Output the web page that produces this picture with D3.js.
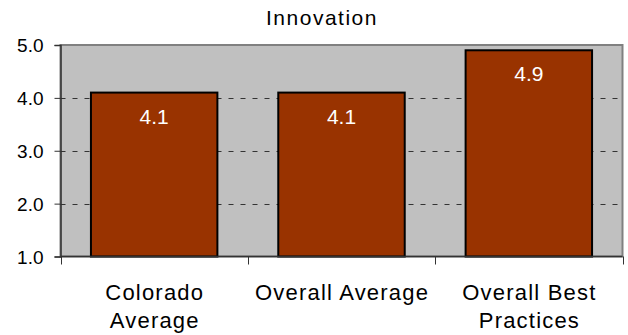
<!DOCTYPE html>
<html>
<head>
<meta charset="utf-8">
<script src="https://cdn.jsdelivr.net/npm/d3@7"></script>
<style>
  html, body { margin: 0; padding: 0; background: #fff; }
  svg { display: block; font-family: "Liberation Sans", Arial, sans-serif; }
</style>
</head>
<body>
<svg id="chart" width="628" height="335"></svg>
<script>
// Innovation scores by group
const categories = [["Colorado", "Average"], ["Overall Average"], ["Overall Best", "Practices"]];
const values = [4.1, 4.1, 4.9];
const yTicks = [1.0, 2.0, 3.0, 4.0, 5.0];
const title = "Innovation";

const svg = d3.select("#chart");
const plot = { left: 60.5, right: 622.5, top: 45, bottom: 256.5 };

const keys = categories.map((c, i) => i);
const x = d3.scaleBand()
  .domain(keys)
  .range([plot.left, plot.right])
  .paddingInner(0.325)
  .paddingOuter(0.1625);

const y = d3.scaleLinear().domain([1, 5]).range([plot.bottom, plot.top]);

// plot background with grey frame on top/right
svg.append("rect")
  .attr("x", plot.left).attr("y", plot.top)
  .attr("width", plot.right - plot.left).attr("height", plot.bottom - plot.top)
  .attr("fill", "#c0c0c0")
  .attr("stroke", "#808080").attr("stroke-width", 2);

// dashed gridlines
svg.append("g")
  .selectAll("line")
  .data(yTicks.filter(t => t > 1 && t < 5))
  .join("line")
  .attr("x1", plot.left).attr("x2", plot.right)
  .attr("y1", d => Math.round(y(d)) + 0.5).attr("y2", d => Math.round(y(d)) + 0.5)
  .attr("stroke", "#333")
  .attr("stroke-width", 1)
  .attr("stroke-dasharray", "5,7");

// bars
svg.append("g")
  .selectAll("rect")
  .data(values)
  .join("rect")
  .attr("x", (d, i) => x(i))
  .attr("y", d => y(d))
  .attr("width", x.bandwidth())
  .attr("height", d => plot.bottom - y(d))
  .attr("fill", "#993300")
  .attr("stroke", "#000")
  .attr("stroke-width", 2);

// value labels
svg.append("g")
  .selectAll("text")
  .data(values)
  .join("text")
  .attr("x", (d, i) => x(i) + x.bandwidth() / 2)
  .attr("y", d => y(d) + 31)
  .attr("text-anchor", "middle")
  .attr("fill", "#fff")
  .attr("font-size", 21)
  .text(d => d3.format(".1f")(d));

// y axis
const yAxis = d3.axisLeft(y)
  .tickValues(yTicks)
  .tickFormat(d3.format(".1f"))
  .tickSize(6)
  .tickPadding(11);
const gy = svg.append("g")
  .attr("transform", `translate(${plot.left},0)`)
  .call(yAxis);
gy.select(".domain").attr("stroke", "#333").attr("stroke-width", 1.5);
gy.selectAll(".tick line").attr("stroke", "#333");
gy.selectAll(".tick text")
  .attr("font-family", "Liberation Sans, Arial, sans-serif")
  .attr("font-size", 19)
  .attr("fill", "#000")
  .attr("dy", "0.36em");

// x axis: tick marks at category boundaries
const boundaries = d3.range(categories.length + 1);
const xEdge = i => plot.left + i * (plot.right - plot.left) / categories.length;
svg.append("line")
  .attr("x1", plot.left).attr("x2", plot.right)
  .attr("y1", plot.bottom).attr("y2", plot.bottom)
  .attr("stroke", "#333").attr("stroke-width", 1.5);
svg.append("g")
  .selectAll("line")
  .data(boundaries)
  .join("line")
  .attr("x1", d => Math.round(xEdge(d)) + 0.5).attr("x2", d => Math.round(xEdge(d)) + 0.5)
  .attr("y1", plot.bottom).attr("y2", plot.bottom + 8)
  .attr("stroke", "#333");

// category labels
const catLabels = svg.append("g")
  .selectAll("text")
  .data(categories)
  .join("text")
  .attr("text-anchor", "middle")
  .attr("font-size", 22)
  .attr("letter-spacing", 1.2)
  .attr("fill", "#000");
catLabels.each(function(lines, i) {
  const cx = x(i) + x.bandwidth() / 2 + 0.6;
  d3.select(this).selectAll("tspan")
    .data(lines)
    .join("tspan")
    .attr("x", cx)
    .attr("y", (d, j) => 300 + j * 28)
    .text(d => d);
});

// title
svg.append("text")
  .attr("x", 322).attr("y", 25)
  .attr("text-anchor", "middle")
  .attr("font-size", 21)
  .attr("letter-spacing", 1.5)
  .attr("fill", "#000")
  .text(title);
</script>
</body>
</html>
